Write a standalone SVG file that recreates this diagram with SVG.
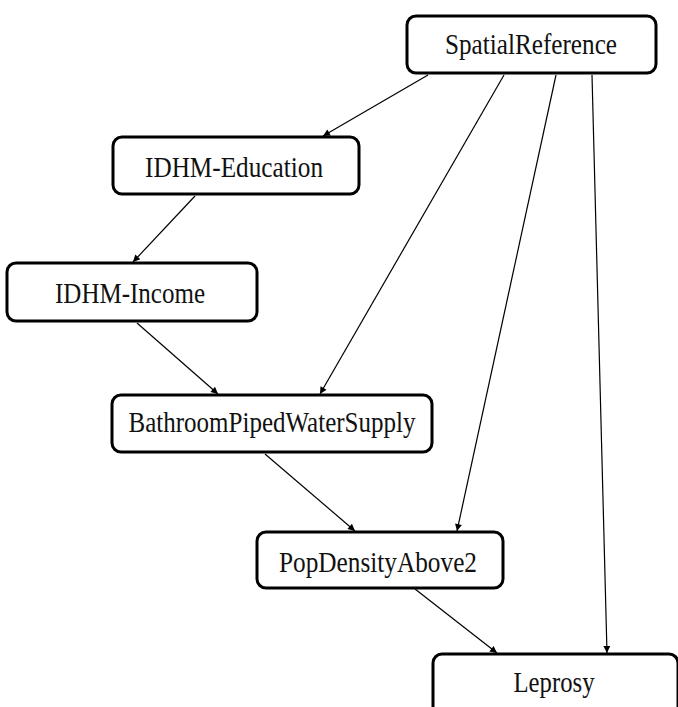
<svg xmlns="http://www.w3.org/2000/svg" width="678" height="707" viewBox="0 0 678 707">
<style>
.box{fill:#fff;stroke:#000;stroke-width:3}
.lbl{font-family:"Liberation Serif","Times New Roman",serif;font-size:29px;fill:#111;text-anchor:middle}
.edge{stroke:#000;stroke-width:1.2;fill:none;marker-end:url(#ah)}
</style>
<defs>
<marker id="ah" viewBox="0 0 10 10" refX="10" refY="5" markerWidth="9" markerHeight="7" markerUnits="userSpaceOnUse" orient="auto">
<path d="M0,0 L10,5 L0,10 z" fill="#000"/>
</marker>
</defs>
<rect width="678" height="707" fill="#fff"/>
<g id="connectors">
<line class="edge" x1="428" y1="75" x2="323" y2="136"/>
<line class="edge" x1="504" y1="75" x2="320" y2="394"/>
<line class="edge" x1="556" y1="75" x2="457" y2="531"/>
<line class="edge" x1="592" y1="75" x2="607" y2="653"/>
<line class="edge" x1="195" y1="196" x2="133" y2="262"/>
<line class="edge" x1="137" y1="323" x2="218" y2="394"/>
<line class="edge" x1="265" y1="454" x2="355" y2="531"/>
<line class="edge" x1="415" y1="589" x2="497" y2="653"/>
</g>
<g id="SpatialReference"><rect class="box" x="407" y="16" width="249" height="57" rx="9"/><text class="lbl" x="531" y="54" textLength="172" lengthAdjust="spacingAndGlyphs">SpatialReference</text></g>
<g id="IDHM-Education"><rect class="box" x="113" y="137" width="246" height="57" rx="9"/><text class="lbl" x="234" y="177" textLength="178" lengthAdjust="spacingAndGlyphs">IDHM-Education</text></g>
<g id="IDHM-Income"><rect class="box" x="7" y="263" width="250" height="58" rx="9"/><text class="lbl" x="130" y="303" textLength="150" lengthAdjust="spacingAndGlyphs">IDHM-Income</text></g>
<g id="BathroomPipedWaterSupply"><rect class="box" x="112" y="395" width="320" height="57" rx="9"/><text class="lbl" x="272" y="432" textLength="287" lengthAdjust="spacingAndGlyphs">BathroomPipedWaterSupply</text></g>
<g id="PopDensityAbove2"><rect class="box" x="257" y="532" width="246" height="56" rx="9"/><text class="lbl" x="378" y="572" textLength="198" lengthAdjust="spacingAndGlyphs">PopDensityAbove2</text></g>
<g id="Leprosy"><rect class="box" x="433" y="654" width="245" height="64" rx="9"/><text class="lbl" x="554" y="692" textLength="81" lengthAdjust="spacingAndGlyphs">Leprosy</text></g>
</svg>
